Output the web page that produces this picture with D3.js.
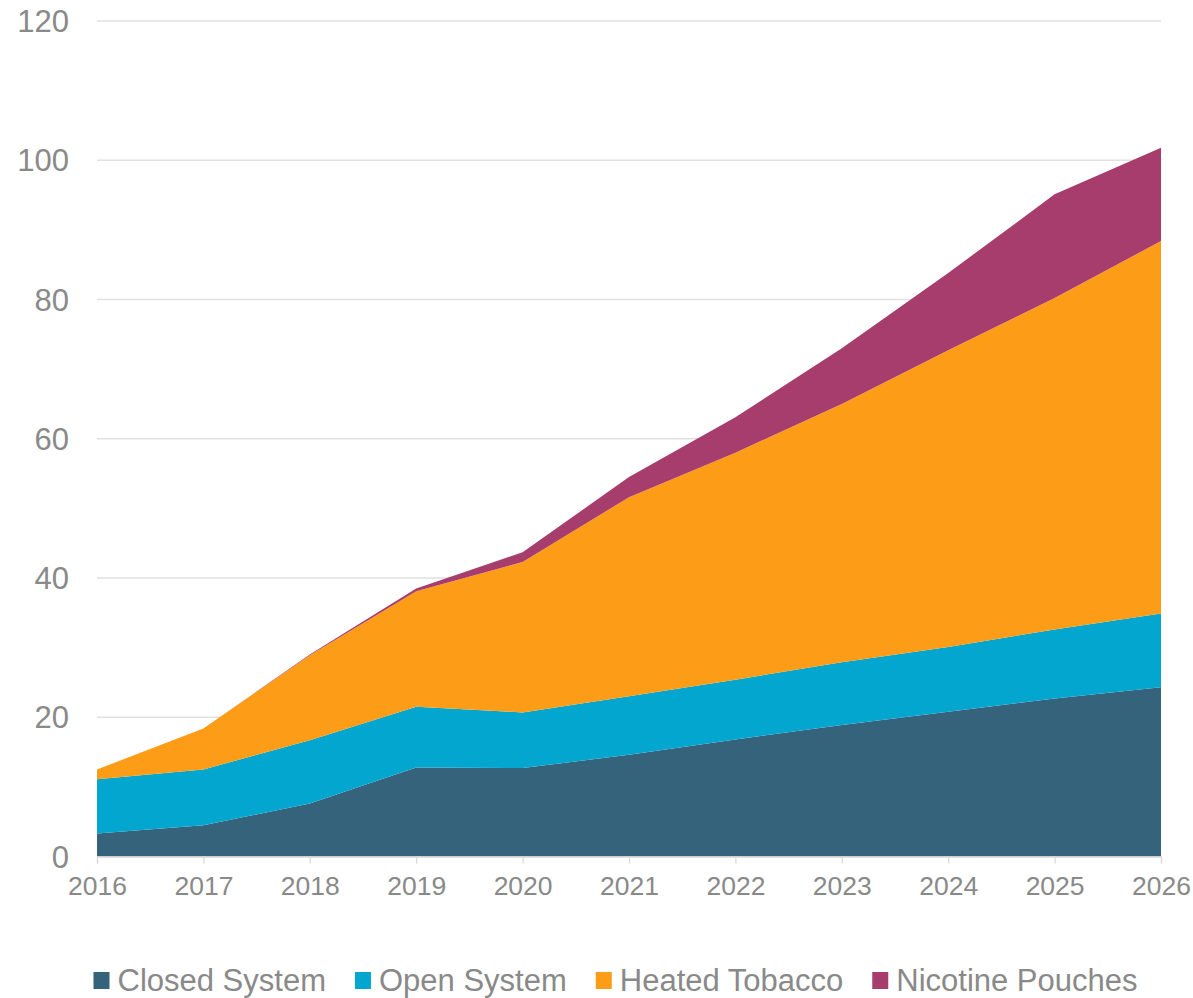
<!DOCTYPE html>
<html>
<head>
<meta charset="utf-8">
<script src="https://cdn.jsdelivr.net/npm/d3@7"></script>
<style>
  html, body { margin: 0; padding: 0; background: #ffffff; }
  svg { display: block; font-family: "Liberation Sans", Arial, sans-serif; }
</style>
</head>
<body>
<svg id="chart" width="1193" height="998"></svg>
<script>
// Market size by product category, stacked (2016–2026)
const years = [2016, 2017, 2018, 2019, 2020, 2021, 2022, 2023, 2024, 2025, 2026];
const closedSystem    = [3.3, 4.5, 7.6, 12.8, 12.7, 14.6, 16.8, 18.9, 20.8, 22.7, 24.3];
const openSystem      = [7.8, 8.0, 9.1, 8.7, 8.0, 8.4, 8.6, 9.0, 9.3, 9.9, 10.6];
const heatedTobacco   = [1.4, 5.9, 12.2, 16.6, 21.6, 28.6, 32.6, 37.1, 42.6, 47.6, 53.5];
const nicotinePouches = [0, 0, 0.1, 0.4, 1.4, 2.9, 5.1, 8.0, 11.1, 14.9, 13.4];
const seriesNames = ["Closed System", "Open System", "Heated Tobacco", "Nicotine Pouches"];
const seriesColors = ["#35637b", "#02a6cf", "#fd9c17", "#a63d6d"];
const yTicks = [0, 20, 40, 60, 80, 100, 120];

const rows = years.map((yr, i) => ({
  year: yr,
  "Closed System": closedSystem[i],
  "Open System": openSystem[i],
  "Heated Tobacco": heatedTobacco[i],
  "Nicotine Pouches": nicotinePouches[i]
}));

const svg = d3.select("#chart");
const x = d3.scaleLinear().domain([2016, 2026]).range([97, 1161]);
const y = d3.scaleLinear().domain([0, 120]).range([856.5, 21]);
const textColor = "#898989";

// horizontal gridlines
svg.append("g")
  .selectAll("line")
  .data(yTicks.filter(t => t > 0))
  .join("line")
  .attr("x1", x(2016)).attr("x2", x(2026))
  .attr("y1", d => y(d)).attr("y2", d => y(d))
  .attr("stroke", "#e1e1e1")
  .attr("stroke-width", 1.3);

// y-axis labels
svg.append("g")
  .selectAll("text")
  .data(yTicks)
  .join("text")
  .attr("x", 69)
  .attr("y", d => y(d) + 11)
  .attr("text-anchor", "end")
  .attr("font-size", 31)
  .attr("fill", textColor)
  .text(d => d);

// stacked areas
const stack = d3.stack().keys(seriesNames);
const layers = stack(rows);
const area = d3.area()
  .x(d => x(d.data.year))
  .y0(d => y(d[0]))
  .y1(d => y(d[1]));

svg.append("g")
  .selectAll("path")
  .data(layers)
  .join("path")
  .attr("d", area)
  .attr("fill", (d, i) => seriesColors[i]);

// x axis
const xAxis = d3.axisBottom(x)
  .tickValues(years)
  .tickFormat(d3.format("d"))
  .tickSize(7)
  .tickPadding(13);
const gx = svg.append("g")
  .attr("transform", `translate(0,${y(0)})`)
  .call(xAxis);
gx.select(".domain").attr("stroke", "#d9d9d9").attr("stroke-width", 1.3);
gx.selectAll(".tick line").attr("stroke", "#d9d9d9").attr("stroke-width", 1.3);
gx.selectAll(".tick text")
  .attr("font-size", 26.5)
  .attr("font-family", "Liberation Sans, Arial, sans-serif")
  .attr("fill", textColor);

// legend
const legend = svg.append("g");
const sq = 16, gapText = 8, gapItem = 29, fontSize = 31;
const items = legend.selectAll("g")
  .data(seriesNames)
  .join("g");
items.append("rect")
  .attr("width", sq).attr("height", sq + 1)
  .attr("y", 972)
  .attr("fill", (d, i) => seriesColors[i]);
items.append("text")
  .attr("x", sq + gapText)
  .attr("y", 991)
  .attr("font-size", fontSize)
  .attr("fill", textColor)
  .text(d => d);
let cursor = 0;
const widths = [];
items.each(function () {
  const w = this.querySelector("text").getComputedTextLength();
  widths.push(sq + gapText + w);
});
const totalW = d3.sum(widths) + gapItem * (widths.length - 1);
cursor = 615.5 - totalW / 2;
items.attr("transform", (d, i) => {
  const t = `translate(${cursor},0)`;
  cursor += widths[i] + gapItem;
  return t;
});
</script>
</body>
</html>
